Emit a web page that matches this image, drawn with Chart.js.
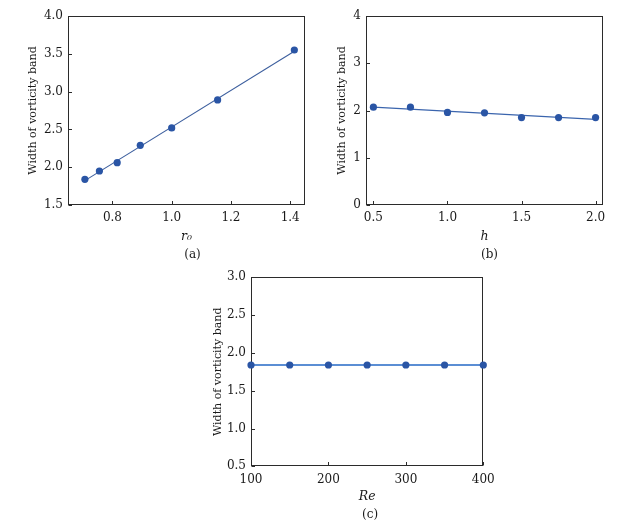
<!DOCTYPE html>
<html><head><meta charset="utf-8">
<script src="https://cdn.jsdelivr.net/npm/chart.js@4"></script>
<style>
html,body{margin:0;padding:0;background:#fff;width:638px;height:525px;overflow:hidden;}
canvas{position:absolute;}
</style></head><body>
<canvas id="ca" width="320" height="266" style="left:0px;top:0px"></canvas>
<canvas id="cb" width="300" height="266" style="left:320px;top:0px"></canvas>
<canvas id="cc" width="320" height="266" style="left:190px;top:260px"></canvas>
<script>
// ---- data ----
const r0Values   = [0.707, 0.756, 0.816, 0.894, 1.0, 1.155, 1.414];
const widthVsR0  = [1.84, 1.95, 2.06, 2.29, 2.52, 2.89, 3.55];
const hValues    = [0.5, 0.75, 1.0, 1.25, 1.5, 1.75, 2.0];
const widthVsH   = [2.07, 2.07, 1.96, 1.95, 1.85, 1.85, 1.85];
const reValues   = [100, 150, 200, 250, 300, 350, 400];
const widthVsRe  = [1.84, 1.84, 1.84, 1.84, 1.84, 1.84, 1.84];
const xTicksA = [0.8, 1.0, 1.2, 1.4];
const yTicksA = [1.5, 2.0, 2.5, 3.0, 3.5, 4.0];
const xTicksB = [0.5, 1.0, 1.5, 2.0];
const yTicksB = [0, 1, 2, 3, 4];
const xTicksC = [100, 200, 300, 400];
const yTicksC = [0.5, 1.0, 1.5, 2.0, 2.5, 3.0];
const yTitle = 'Width of vorticity band';

function fitLine(xs, ys) {
  const n = xs.length;
  const mx = xs.reduce((a, b) => a + b, 0) / n;
  const my = ys.reduce((a, b) => a + b, 0) / n;
  let sxy = 0, sxx = 0;
  for (let i = 0; i < n; i++) { sxy += (xs[i] - mx) * (ys[i] - my); sxx += (xs[i] - mx) ** 2; }
  const k = sxx ? sxy / sxx : 0;
  return [xs[0], xs[n - 1]].map(x => ({x: x, y: my + k * (x - mx)}));
}

const framePlugin = {
  id: 'frame',
  beforeDatasetsDraw(chart) {
    const {ctx, chartArea: a, scales: {x, y}} = chart;
    ctx.save();
    ctx.strokeStyle = '#2b2b2b';
    ctx.lineWidth = 1;
    const L = Math.round(a.left) + 0.5, R = Math.round(a.right) - 0.5;
    const T = Math.round(a.top) + 0.5, B = Math.round(a.bottom) - 0.5;
    ctx.strokeRect(L, T, R - L, B - T);
    ctx.beginPath();
    x.ticks.forEach(t => {
      const px = Math.round(x.getPixelForValue(t.value)) + 0.5;
      ctx.moveTo(px, B); ctx.lineTo(px, B - 3.5);
    });
    y.ticks.forEach(t => {
      const py = Math.round(y.getPixelForValue(t.value)) + 0.5;
      ctx.moveTo(L, py); ctx.lineTo(L + 3.5, py);
    });
    ctx.stroke();
    ctx.restore();
  }
};

const captionPlugin = {
  id: 'caption',
  afterDraw(chart, args, opts) {
    const {ctx, chartArea: a} = chart;
    ctx.save();
    ctx.font = '12px "DejaVu Serif"';
    ctx.fillStyle = '#1a1a1a';
    ctx.textAlign = 'center';
    ctx.textBaseline = 'middle';
    ctx.fillText(opts.text, (a.left + a.right) / 2 + opts.dx, a.bottom + opts.dy);
    ctx.restore();
  }
};

function makeChart(id, c) {
  new Chart(document.getElementById(id), {
    type: 'scatter',
    data: {
      datasets: [
        {data: c.xs.map((x, i) => ({x: x, y: c.ys[i]})), showLine: false,
         pointRadius: 3.6, pointHoverRadius: 3.6, pointBackgroundColor: '#2a55a5',
         pointBorderWidth: 0, order: 1, clip: false},
        {data: fitLine(c.xs, c.ys), showLine: true, pointRadius: 0,
         borderColor: c.lineColor, borderWidth: c.lineWidth, order: 2, clip: false}
      ]
    },
    options: {
      responsive: false, animation: false,
      layout: {padding: {top: c.padTop, right: c.padRight, bottom: c.padBottom, left: 0}},
      plugins: {legend: {display: false}, tooltip: {enabled: false},
                caption: {text: c.caption, dx: c.capDx, dy: c.capDy}},
      scales: {
        x: {
          type: 'linear', min: c.xMin, max: c.xMax,
          afterBuildTicks: s => { s.ticks = c.xTicks.map(v => ({value: v})); },
          afterFit: s => { s.height = c.xAxisH; },
          grid: {display: false, drawTicks: false}, border: {display: false},
          ticks: {padding: 6, color: '#1a1a1a', font: {family: 'DejaVu Serif', size: 12},
                  maxRotation: 0, callback: v => c.xDec === null ? String(v) : Number(v).toFixed(c.xDec)},
          title: {display: true, text: c.xTitle, color: '#1a1a1a',
                  font: {family: 'DejaVu Serif', size: 12.5, style: 'italic'},
                  padding: {top: 0, bottom: c.xTitlePad}}
        },
        y: {
          type: 'linear', min: c.yMin, max: c.yMax,
          afterBuildTicks: s => { s.ticks = c.yTicks.map(v => ({value: v})); },
          afterFit: s => { s.width = c.yAxisW; },
          grid: {display: false, drawTicks: false}, border: {display: false},
          ticks: {padding: 5, color: '#1a1a1a', font: {family: 'DejaVu Serif', size: 12},
                  callback: v => Number(v).toFixed(c.yDec)},
          title: {display: true, text: yTitle, color: '#1a1a1a',
                  font: {family: 'DejaVu Serif', size: 11},
                  padding: {top: c.yTitlePad, bottom: 0}}
        }
      }
    },
    plugins: [framePlugin, captionPlugin]
  });
}

makeChart('ca', {xs: r0Values, ys: widthVsR0, xMin: 0.65, xMax: 1.45, yMin: 1.5, yMax: 4.0,
  xTicks: xTicksA, yTicks: yTicksA, xDec: 1, yDec: 1, xTitle: 'r₀', caption: '(a)',
  capDx: 6, capDy: 50, padTop: 16, padRight: 15, padBottom: 18.5, xAxisH: 42.5, xTitlePad: 3.0,
  yAxisW: 68, yTitlePad: 26.4, lineColor: '#3d5f9e', lineWidth: 1.1});
makeChart('cb', {xs: hValues, ys: widthVsH, xMin: 0.45, xMax: 2.05, yMin: 0, yMax: 4,
  xTicks: xTicksB, yTicks: yTicksB, xDec: 1, yDec: 0, xTitle: 'h', caption: '(b)',
  capDx: 5, capDy: 50, padTop: 16, padRight: 17, padBottom: 18.5, xAxisH: 42.5, xTitlePad: 3.0,
  yAxisW: 46, yTitlePad: 15.1, lineColor: '#3a64ad', lineWidth: 1.3});
makeChart('cc', {xs: reValues, ys: widthVsRe, xMin: 100, xMax: 400, yMin: 0.5, yMax: 3.0,
  xTicks: xTicksC, yTicks: yTicksC, xDec: null, yDec: 1, xTitle: 'Re', caption: '(c)',
  capDx: 3, capDy: 48.7, padTop: 17.3, padRight: 26.7, padBottom: 18.2, xAxisH: 41.5, xTitlePad: 3.3,
  yAxisW: 61, yTitlePad: 21.7, lineColor: '#5b8ed4', lineWidth: 2});
</script>
</body></html>
